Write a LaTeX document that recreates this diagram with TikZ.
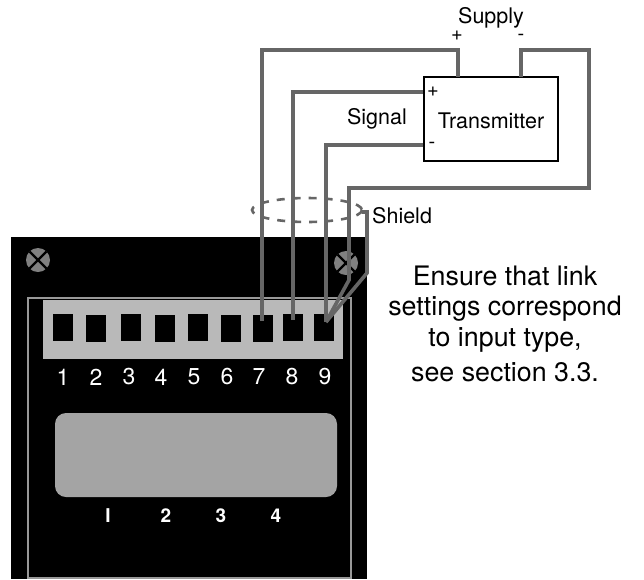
\documentclass[tikz,border=0pt]{standalone}
\usepackage{fontspec}
\setmainfont{TeX Gyre Heros}
\tikzset{
  wire/.style={draw=wiregrey,line width=3.6pt,line join=miter},
  shield loop/.style={draw=wiregrey,line width=2.6pt,dash pattern=on 8pt off 8pt},
  terminal/.style={fill=black,draw=none,minimum width=20pt,minimum height=27pt,inner sep=0pt},
  screw/.style={circle,fill=screwgrey,minimum size=24pt,inner sep=0pt},
  screw cross/.style={draw=black,line width=2.4pt},
  termnum/.style={text=white,font=\fontsize{23}{23}\selectfont,inner sep=0pt},
  dispnum/.style={text=white,font=\fontsize{19}{19}\selectfont\bfseries,inner sep=0pt},
  label small/.style={font=\fontsize{21.5}{21.5}\selectfont,inner sep=0pt},
  label sign/.style={font=\fontsize{20}{20}\selectfont,inner sep=0pt},
  note line/.style={font=\fontsize{26.8}{26.8}\selectfont,inner sep=0pt}
}
\definecolor{wiregrey}{HTML}{666666}
\definecolor{screwgrey}{HTML}{808080}
\definecolor{framegrey}{HTML}{999999}
\definecolor{stripgrey}{HTML}{B9B9B9}
\definecolor{dispgrey}{HTML}{A4A4A4}
\begin{document}
\begin{tikzpicture}[x=1pt,y=-1pt]
    \useasboundingbox (0,0) rectangle (644,579);

    % instrument panel
    \fill[black] (11,237) rectangle (367,579);
    \draw[framegrey,line width=2.4pt] (28,578) -- (28,298) -- (351,298) -- (351,578) -- cycle;
    \fill[stripgrey] (43,300) rectangle (343,359);
    \fill[dispgrey,rounded corners=11pt] (55,413) rectangle (337,497);

    \node[screw] at (38,260) (screwl) {};
    \node[screw] at (346,263) (screwr) {};
    \draw[screw cross] (screwl.45) -- (screwl.225);
    \draw[screw cross] (screwl.135) -- (screwl.315);
    \draw[screw cross] (screwr.45) -- (screwr.225);
    \draw[screw cross] (screwr.135) -- (screwr.315);

    \node[terminal] at (63,327.5) (t1) {};
    \node[terminal] at (96,328) (t2) {};
    \node[terminal] at (131,327.5) (t3) {};
    \node[terminal] at (165,328) (t4) {};
    \node[terminal] at (198,327.5) (t5) {};
    \node[terminal] at (231,328) (t6) {};
    \node[terminal] at (263,328) (t7) {};
    \node[terminal] at (293,327.5) (t8) {};
    \node[terminal] at (324,327.5) (t9) {};

    \node[termnum] at (63,377) (n1) {1};
    \node[termnum] at (96,377) (n2) {2};
    \node[termnum] at (129,377) (n3) {3};
    \node[termnum] at (161,377) (n4) {4};
    \node[termnum] at (194,377) (n5) {5};
    \node[termnum] at (227,377) (n6) {6};
    \node[termnum] at (259,377) (n7) {7};
    \node[termnum] at (292,377) (n8) {8};
    \node[termnum] at (325,377) (n9) {9};

    \node[dispnum] at (108,516) (d1) {I};
    \node[dispnum] at (166,516) (d2) {2};
    \node[dispnum] at (221,516) (d3) {3};
    \node[dispnum] at (276,516) (d4) {4};

    % transmitter and its texts
    \node[draw,line width=2pt,minimum width=134pt,minimum height=84pt,inner sep=0pt] at (490.5,119) (tx) {};
    \node[label small] at (491,121) (txname) {Transmitter};
    \node[label small] at (491,18) (supply) {Supply};
    \node[label sign] at (457,36) (supplyplus) {+};
    \node[label sign] at (521,37) (supplyminus) {-};
    \node[label sign] at (433,92) (txplus) {+};
    \node[label sign] at (432,145) (txminus) {-};
    \node[label small] at (377,119) (signal) {Signal};
    \node[label small,anchor=west] at (372,216) (shield) {Shield};

    \node[note line] at (505,276) (note1) {Ensure that link};
    \node[note line] at (505,309) (note2) {settings correspond};
    \node[note line] at (505,340) (note3) {to input type,};
    \node[note line] at (505,372) (note4) {see section 3.3.};

    % shield loop goes under the wires
    \draw[shield loop] (307,210) ellipse [x radius=55,y radius=12];

    \coordinate (p7) at (262,321);
    \coordinate (p8) at (293,320);
    \coordinate (p9) at (326,322);
    \coordinate (txtopl) at (458,77);
    \coordinate (txtopr) at (521,77);
    \coordinate (txlefta) at (423,92);
    \coordinate (txleftb) at (423,145);

    \draw[wire] (p7) -- (262,50) -- (458,50) -- (txtopl);
    \draw[wire] (p8) -- (293,92) -- (txlefta);
    \draw[wire] (p9) -- (326,145) -- (txleftb);
    \draw[wire] (p9) -- (349,280) -- (349,188) -- (589,188) -- (589,50) -- (521,50) -- (txtopr);
    \draw[wire] (p9) -- (367,273) -- (367,212) -- (362,212);
\end{tikzpicture}
\end{document}
